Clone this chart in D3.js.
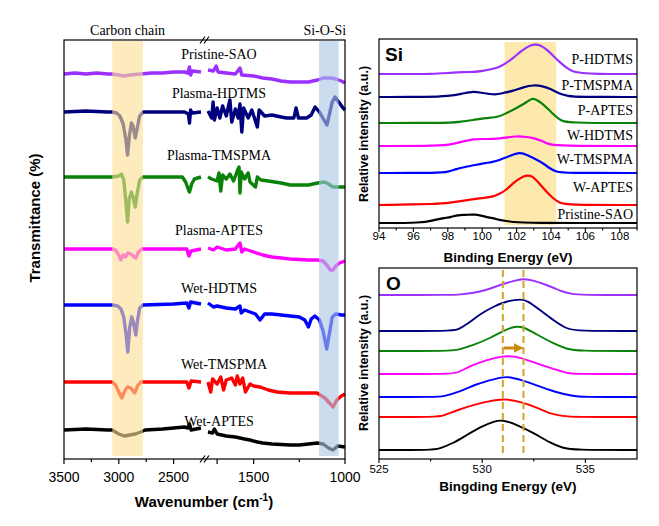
<!DOCTYPE html>
<html><head><meta charset="utf-8">
<script src="https://cdn.jsdelivr.net/npm/d3@7"></script>
<style>body{margin:0;background:#fff}svg{display:block}</style>
</head><body>
<svg id="c" width="659" height="526"></svg>
<script>
// ---------------- DATA ----------------
const irNames  = ["Pristine-SAO","Plasma-HDTMS","Plasma-TMSPMA","Plasma-APTES","Wet-HDTMS","Wet-TMSPMA","Wet-APTES"];
const colors   = ["#9b30ff","#00007f","#0a820a","#ff00ff","#0000ff","#ff0000","#000000"];
const irOffsets = [385, 347, 282, 210, 154, 77, 29];
const irTicksMajor = [3500, 3000, 2500, 1500, 1000];
const irTicksExtra = [1700];
const irTicksMinor = [3250, 2750, 1250];
const irBands = [[3060, 2780], [1142, 1035]];
const irBandLabels = ["Carbon chain", "Si-O-Si"];

const irLeft = [
 [[3500,0],[3400,1],[3300,0],[3200,1],[3100,0],[3060,0],[3000,-1],[2950,-2],[2900,-1],[2800,0],[2700,1],[2600,1],[2500,2],[2400,2],[2370,1],[2355,7],[2345,-1],[2330,3],[2250,2]],
 [[3500,0],[3300,1],[3100,0],[3060,0],[3020,-1],[2990,-4],[2960,-12],[2935,-28],[2920,-43],[2905,-25],[2885,-11],[2870,-14],[2850,-26],[2835,-18],[2810,-4],[2780,0],[2600,0],[2400,0],[2365,-2],[2355,-11],[2345,2],[2330,-1],[2250,0]],
 [[3500,0],[3300,0],[3100,0],[3060,0],[3000,1],[2975,3],[2955,-3],[2935,-25],[2920,-45],[2905,-22],[2885,-15],[2870,-20],[2850,-30],[2835,-18],[2810,-3],[2780,0],[2500,0],[2420,0],[2390,-5],[2370,-11],[2355,-15],[2335,-7],[2310,-2],[2250,0]],
 [[3500,0],[3300,0],[3100,0],[3060,0],[3030,-1],[3000,-6],[2982,-11],[2960,-6],[2940,-8],[2918,-4],[2890,-5],[2860,-8],[2845,-9],[2820,-3],[2790,0],[2500,0],[2380,0],[2360,-7],[2340,-2],[2250,0]],
 [[3500,0],[3300,0],[3100,0],[3060,0],[3010,-1],[2980,-4],[2955,-12],[2935,-28],[2918,-47],[2900,-22],[2882,-12],[2865,-18],[2845,-30],[2830,-16],[2810,-3],[2780,0],[2500,1],[2380,2],[2360,-3],[2345,3],[2250,1]],
 [[3500,0],[3300,0],[3100,0],[3060,0],[3030,-3],[3000,-10],[2973,-16],[2950,-10],[2930,-6],[2918,-5],[2890,-6],[2870,-9],[2855,-11],[2830,-4],[2800,0],[2500,0],[2380,0],[2360,-6],[2340,1],[2250,0]],
 [[3500,0],[3300,1],[3100,0],[3060,0],[3000,-4],[2950,-6],[2900,-5],[2850,-4],[2800,-2],[2760,0],[2600,1],[2500,2],[2400,3],[2370,2],[2355,6],[2340,0],[2250,2]]
];
const irRight = [
 [[1750,4],[1720,3],[1705,8],[1695,2],[1650,1],[1600,0],[1575,6],[1565,-1],[1500,-2],[1450,-4],[1400,-5],[1350,-7],[1300,-8],[1250,-8],[1200,-8],[1150,-6],[1120,-4],[1080,-4],[1050,-5],[1020,-7],[1000,-9]],
 [[1750,1],[1730,-6],[1722,10],[1715,-8],[1700,4],[1685,-6],[1670,6],[1650,-4],[1630,12],[1620,-10],[1600,3],[1585,-6],[1575,8],[1565,-20],[1555,4],[1530,-6],[1510,2],[1480,-15],[1470,2],[1440,-4],[1400,-3],[1350,-5],[1320,-6],[1280,-6],[1268,4],[1255,-6],[1210,-6],[1185,-3],[1164,5],[1140,0],[1115,-8],[1099,-13],[1085,-2],[1070,10],[1055,15],[1030,9],[1011,4],[1000,2]],
 [[1750,0],[1730,-2],[1700,-4],[1690,4],[1680,-14],[1670,2],[1650,-2],[1630,3],[1610,-4],[1590,6],[1580,10],[1575,-16],[1568,5],[1550,-2],[1530,4],[1520,-5],[1490,-10],[1480,0],[1460,-3],[1420,-4],[1350,-6],[1300,-8],[1250,-8],[1200,-8],[1150,-6],[1110,-5],[1090,-7],[1066,-10],[1040,-10],[1000,-10]],
 [[1750,1],[1720,-1],[1700,2],[1650,-1],[1600,0],[1575,6],[1565,-3],[1550,0],[1500,-3],[1450,-6],[1400,-8],[1300,-10],[1200,-11],[1150,-11],[1120,-12],[1100,-16],[1080,-21],[1066,-21],[1050,-17],[1030,-14],[1000,-12]],
 [[1750,2],[1720,-2],[1700,-1],[1650,-3],[1600,-4],[1575,-1],[1568,-8],[1550,-5],[1520,-7],[1490,-9],[1465,-15],[1440,-9],[1400,-9],[1350,-10],[1300,-11],[1250,-12],[1220,-15],[1200,-22],[1185,-14],[1165,-11],[1140,-15],[1120,-26],[1100,-44],[1085,-28],[1070,-12],[1050,-9],[1020,-10],[1000,-10]],
 [[1750,0],[1735,-10],[1725,3],[1700,-2],[1680,5],[1665,-8],[1650,2],[1620,4],[1600,-3],[1590,6],[1575,-2],[1560,4],[1545,-10],[1520,-2],[1500,-4],[1465,-5],[1420,-8],[1372,-10],[1300,-11],[1246,-11],[1153,-11],[1110,-16],[1080,-22],[1066,-25],[1045,-18],[1020,-14],[1000,-12]],
 [[1750,-2],[1725,-3],[1715,1],[1700,-4],[1650,-6],[1600,-7],[1550,-9],[1520,-10],[1480,-12],[1450,-13],[1400,-14],[1300,-15],[1250,-15],[1200,-14],[1150,-13],[1120,-14],[1090,-18],[1066,-20],[1040,-16],[1000,-17]]
];

// Si 2p XPS
const siNames = ["P-HDTMS","P-TMSPMA","P-APTES","W-HDTMS","W-TMSPMA","W-APTES","Pristine-SAO"];
const siOffsets = [154, 131, 105, 82, 55, 23, 5];
const siTicks = [94, 96, 98, 100, 102, 104, 106, 108];
const siBand = [101.3, 104.3];
const siData = [
 [[94,0],[96,0],[97,0],[98,1],[99,2],[99.5,2],[100,3],[100.6,5],[101,7],[101.4,11],[101.8,16],[102.2,22],[102.6,27],[103.0,30],[103.4,29],[103.8,24],[104.2,17],[104.5,12],[104.9,6],[105.3,2],[105.8,1],[106.5,0],[109,0]],
 [[94,0],[97,0],[98,1],[98.8,3],[99.5,6],[100,4],[100.8,2],[101.2,4],[101.8,6],[102.4,10],[103,12],[103.5,11],[104,8],[104.5,3],[105,1],[105.5,0],[109,0]],
 [[94,0],[98,0],[98.6,1],[99.5,3],[100.2,5],[101,6],[101.4,10],[101.8,13],[102.2,17],[102.6,21],[102.9,25],[103.2,23],[103.6,18],[104,11],[104.5,3],[104.9,0],[109,0]],
 [[94,0],[97.5,0],[98.3,2],[99,5],[99.5,7],[100,7],[100.6,7],[101.2,8],[102,10],[102.6,9],[103,8],[103.5,5],[103.8,2],[104.5,0],[109,0]],
 [[94,0],[97.5,0],[98,1],[98.5,4],[99,6],[99.6,8],[100.2,10],[100.6,11],[101,13],[101.6,17],[102.2,21],[102.6,18],[103.2,13],[103.6,9],[103.9,5],[104.3,1],[104.8,0],[109,0]],
 [[94,0],[97.5,1],[98,2],[99.2,5],[100,7],[100.6,8],[101,11],[101.4,15],[101.8,22],[102.2,27],[102.6,30],[102.9,29],[103.2,24],[103.5,18],[103.8,12],[104.1,7],[104.5,2],[104.9,0],[109,0]],
 [[94,0],[96.5,0],[97.2,3],[97.8,5],[98.2,6],[98.6,8],[99,8],[99.6,9],[100.2,6],[100.6,5],[101,3],[101.4,2],[101.8,1],[102.5,0],[109,0]]
];

// O 1s XPS
const oOffsets = [164, 128, 108, 85, 62, 42, 9];
const oTicks = [525, 530, 535];
const oTicksMinor = [527.5, 532.5];
const oLines = [531.0, 532.0];
const oData = [
 [[525,0],[528.6,0],[528.9,0.5],[529.6,2],[530.2,5],[530.6,8],[531,11],[531.5,14],[532,16.5],[532.5,14.5],[533.1,10],[533.5,7],[533.8,4],[534.3,1],[534.8,0],[537.5,0]],
 [[525,0],[528.5,0],[528.8,1],[529.3,7],[529.9,17],[530.6,25],[531.2,30],[531.9,32],[532.2,30],[532.8,21],[533.5,10],[534.1,2],[534.6,0],[537.5,0]],
 [[525,0],[528.5,0],[528.8,1],[529.6,6],[530.4,13],[531,20],[531.6,25],[532,24],[532.6,17],[533.5,7],[534.1,2],[534.6,0],[537.5,0]],
 [[525,0],[528.5,0],[528.8,1],[529.4,8],[530.2,14],[531,18],[531.5,18],[532.2,14],[533,8],[533.8,3],[534.1,1],[534.5,0],[537.5,0]],
 [[525,0],[527.8,0],[528.1,0.5],[528.9,5],[529.7,13],[530.6,18],[531.2,21],[531.9,17],[532.6,12],[533.5,5],[534.4,1],[534.8,0],[537.5,0]],
 [[525,0],[527.8,0],[528.1,1],[528.8,7],[529.7,13],[530.6,17],[531.2,18],[531.9,15],[532.6,10],[533.3,3],[533.9,1],[534.4,0],[537.5,0]],
 [[525,0],[527.6,0],[527.9,1],[528.6,7],[529.1,13],[529.9,23],[530.6,29],[531,30],[531.6,26],[532.5,17],[533.3,7],[533.9,2],[534.4,0],[537.5,0]]
];

// ---------------- DRAW ----------------
const svg = d3.select("#c");
const SERIF = "'Liberation Serif','Times New Roman',serif";
const SANS = "'Liberation Sans',Arial,sans-serif";

// ===== Left FTIR panel =====
const L = {x0:64, x1:345, y0:40, y1:459};
const xIR = d3.scaleLinear().domain([3500, 2250, 1750, 1000]).range([L.x0, 201, 208, L.x1]);
const yIR = d3.scaleLinear().domain([0, L.y1 - L.y0]).range([L.y1, L.y0]);
const gL = svg.append("g");

const lineIR = d3.line().x(d => xIR(d[0])).y(d => yIR(d[1])).curve(d3.curveLinear);
irNames.forEach((n, i) => {
  [irLeft[i], irRight[i]].forEach(seg => {
    const pts = seg.map(([x, d]) => [x, irOffsets[i] + d]);
    gL.append("path").attr("d", lineIR(pts)).attr("fill","none")
      .attr("stroke", colors[i]).attr("stroke-width", 3.4).attr("stroke-linejoin","round");
  });
});
// bands (overlay)
const bandFill = ["rgb(251,222,150)", "rgb(170,198,228)"];
irBands.forEach((b, i) => {
  gL.append("rect").attr("x", xIR(b[0])).attr("width", xIR(b[1]) - xIR(b[0]))
    .attr("y", L.y0 + 1).attr("height", L.y1 - L.y0 - 4)
    .attr("fill", bandFill[i]).attr("opacity", 0.62);
  gL.append("text").attr("x", (xIR(b[0]) + xIR(b[1])) / 2 + (i === 0 ? 0 : -4)).attr("y", 35)
    .attr("text-anchor","middle").attr("font-family", SERIF).attr("font-size", 14).text(irBandLabels[i]);
});
// frame
gL.append("rect").attr("x", L.x0).attr("y", L.y0).attr("width", L.x1 - L.x0).attr("height", L.y1 - L.y0)
  .attr("fill","none").attr("stroke","#000").attr("stroke-width",1.2);
// ticks
irTicksMajor.concat(irTicksExtra).forEach(t => {
  gL.append("line").attr("x1", xIR(t)).attr("x2", xIR(t)).attr("y1", L.y1).attr("y2", L.y1 + 5).attr("stroke","#000").attr("stroke-width",1.2);
});
irTicksMinor.forEach(t => {
  gL.append("line").attr("x1", xIR(t)).attr("x2", xIR(t)).attr("y1", L.y1).attr("y2", L.y1 + 3).attr("stroke","#000").attr("stroke-width",1.2);
});
irTicksMajor.forEach(t => {
  gL.append("text").attr("x", xIR(t)).attr("y", 482).attr("text-anchor","middle")
    .attr("font-family", SANS).attr("font-size", 14).text(t);
});
// axis break marks
const brk = (xIR(2250) + xIR(1750)) / 2;
[L.y0, L.y1].forEach(yy => {
  [-2, 2].forEach(dx => {
    gL.append("line").attr("x1", brk + dx - 2.5).attr("y1", yy + 3.5).attr("x2", brk + dx + 2.5).attr("y2", yy - 3.5)
      .attr("stroke","#000").attr("stroke-width",1.2);
  });
});
// series labels
const irLabelY = [59, 98, 160, 235, 293, 369, 426];
irNames.forEach((n, i) => {
  gL.append("text").attr("x", i === 5 ? 224 : 219).attr("y", irLabelY[i]).attr("text-anchor","middle")
    .attr("font-family", SERIF).attr("font-size", 14).text(n);
});
// axis titles
const xt = gL.append("text").attr("x", 204).attr("y", 507).attr("text-anchor","middle")
  .attr("font-family", SANS).attr("font-weight","bold").attr("font-size", 15);
xt.append("tspan").text("Wavenumber (cm");
xt.append("tspan").attr("font-size", 10).attr("dy", -6).text("-1");
xt.append("tspan").attr("dy", 6).text(")");
gL.append("text").attr("transform","translate(40,218) rotate(-90)").attr("text-anchor","middle")
  .attr("font-family", SANS).attr("font-weight","bold").attr("font-size", 15).text("Transmittance (%)");

// ===== Si panel =====
const S = {x0:379, x1:637, y0:39, y1:228};
const xSi = d3.scaleLinear().domain([94, 109]).range([S.x0, S.x1]);
const ySi = d3.scaleLinear().domain([0, S.y1 - S.y0]).range([S.y1, S.y0]);
const gS = svg.append("g");
gS.append("rect").attr("x", xSi(siBand[0])).attr("width", xSi(siBand[1]) - xSi(siBand[0]))
  .attr("y", S.y0 + 3).attr("height", S.y1 - S.y0 - 6).attr("fill","rgb(253,228,160)").attr("opacity",0.85);
const lineSi = d3.line().x(d => xSi(d[0])).y(d => ySi(d[1])).curve(d3.curveBasis);
siNames.forEach((n, i) => {
  const pts = siData[i].map(([x, d]) => [x, siOffsets[i] + d]);
  gS.append("path").attr("d", lineSi(pts)).attr("fill","none").attr("stroke", colors[i]).attr("stroke-width", 2.2);
});
gS.append("rect").attr("x", S.x0).attr("y", S.y0).attr("width", S.x1 - S.x0).attr("height", S.y1 - S.y0)
  .attr("fill","none").attr("stroke","#000").attr("stroke-width",1.2);
d3.range(94, 110, 1).forEach(t => {
  const major = siTicks.includes(t);
  gS.append("line").attr("x1", xSi(t)).attr("x2", xSi(t)).attr("y1", S.y1).attr("y2", S.y1 + (major ? 4 : 2.5)).attr("stroke","#000").attr("stroke-width",1.1);
});
siTicks.forEach(t => {
  gS.append("text").attr("x", xSi(t)).attr("y", 240).attr("text-anchor","middle")
    .attr("font-family", SANS).attr("font-size", 11.5).text(t);
});
const siLabelY = [64, 90, 115, 140, 164, 192, 219];
siNames.forEach((n, i) => {
  gS.append("text").attr("x", 633).attr("y", siLabelY[i]).attr("text-anchor","end")
    .attr("font-family", SERIF).attr("font-size", 14).text(n);
});
gS.append("text").attr("x", 385).attr("y", 61).attr("font-family", SANS).attr("font-weight","bold").attr("font-size", 19).text("Si");
gS.append("text").attr("x", 508).attr("y", 262).attr("text-anchor","middle")
  .attr("font-family", SANS).attr("font-weight","bold").attr("font-size", 13.5).text("Binding Energy (eV)");
gS.append("text").attr("transform","translate(368,134) rotate(-90)").attr("text-anchor","middle")
  .attr("font-family", SANS).attr("font-weight","bold").attr("font-size", 12.5).text("Relative intensity (a.u.)");

// ===== O panel =====
const O = {x0:379, x1:637, y0:268, y1:459};
const xO = d3.scaleLinear().domain([525, 537.5]).range([O.x0, O.x1]);
const yO = d3.scaleLinear().domain([0, O.y1 - O.y0]).range([O.y1, O.y0]);
const gO = svg.append("g");
const lineO = d3.line().x(d => xO(d[0])).y(d => yO(d[1])).curve(d3.curveBasis);
oData.forEach((s, i) => {
  const pts = s.map(([x, d]) => [x, oOffsets[i] + d]);
  gO.append("path").attr("d", lineO(pts)).attr("fill","none").attr("stroke", colors[i]).attr("stroke-width", 1.9);
});
oLines.forEach(v => {
  gO.append("line").attr("x1", xO(v)).attr("x2", xO(v)).attr("y1", O.y0 + 2).attr("y2", O.y1 - 2)
    .attr("stroke","#d4a32a").attr("stroke-width", 2).attr("stroke-dasharray","7,4");
});
// arrow
const defs = svg.append("defs");
defs.append("marker").attr("id","ah").attr("viewBox","0 0 10 10").attr("refX",5).attr("refY",5)
  .attr("markerWidth",3.2).attr("markerHeight",3.2).attr("orient","auto")
  .append("path").attr("d","M0,0 L10,5 L0,10 z").attr("fill","#c98a10");
gO.append("line").attr("x1", xO(oLines[0]) + 1).attr("x2", xO(oLines[1]) - 5).attr("y1", 348).attr("y2", 348)
  .attr("stroke","#c98a10").attr("stroke-width", 3).attr("marker-end","url(#ah)");
gO.append("rect").attr("x", O.x0).attr("y", O.y0).attr("width", O.x1 - O.x0).attr("height", O.y1 - O.y0)
  .attr("fill","none").attr("stroke","#000").attr("stroke-width",1.2);
oTicks.forEach(t => {
  gO.append("line").attr("x1", xO(t)).attr("x2", xO(t)).attr("y1", O.y1).attr("y2", O.y1 + 4).attr("stroke","#000").attr("stroke-width",1.1);
  gO.append("text").attr("x", xO(t)).attr("y", 473).attr("text-anchor","middle")
    .attr("font-family", SANS).attr("font-size", 11.5).text(t);
});
oTicksMinor.forEach(t => {
  gO.append("line").attr("x1", xO(t)).attr("x2", xO(t)).attr("y1", O.y1).attr("y2", O.y1 + 2.5).attr("stroke","#000").attr("stroke-width",1.1);
});
gO.append("text").attr("x", 386).attr("y", 290).attr("font-family", SANS).attr("font-weight","bold").attr("font-size", 19).text("O");
gO.append("text").attr("x", 508).attr("y", 491).attr("text-anchor","middle")
  .attr("font-family", SANS).attr("font-weight","bold").attr("font-size", 13.5).text("Bingding Energy (eV)");
gO.append("text").attr("transform","translate(368,363) rotate(-90)").attr("text-anchor","middle")
  .attr("font-family", SANS).attr("font-weight","bold").attr("font-size", 12.5).text("Relative intensity (a.u.)");
</script>
</body></html>
